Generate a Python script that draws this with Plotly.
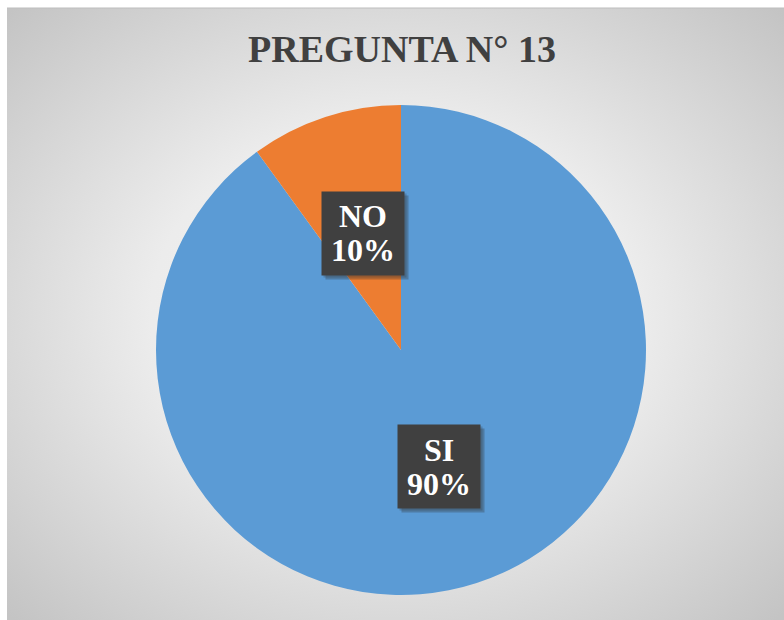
import math
import base64
import plotly.graph_objects as go

# ---- data ----
labels = ["SI", "NO"]
values = [90, 10]
colors = ["#5B9BD5", "#ED7D31"]
title_text = "PREGUNTA N° 13"

# ---- geometry / style ----
W, H = 784, 620
CX, CY, R = 401, 350, 245          # pie centre and radius in pixels
LABEL_R = 0.5                       # label distance as fraction of radius
SERIF = "Liberation Serif, Times New Roman, serif"
BOX_W, BOX_H = 82, 83
LBL_SIZE = 32

# radial gradient background as an SVG image
bx0, by0, bx1, by1 = 7, 8, 784, 620
svg = f"""<svg xmlns='http://www.w3.org/2000/svg' width='{bx1-bx0}' height='{by1-by0}'>
<defs><radialGradient id='g' cx='50%' cy='50%' r='70%'>
<stop offset='0%' stop-color='#f4f4f4'/>
<stop offset='45%' stop-color='#ececec'/>
<stop offset='100%' stop-color='#c4c4c4'/>
</radialGradient></defs>
<rect width='100%' height='100%' fill='url(#g)'/></svg>"""
svg_uri = "data:image/svg+xml;base64," + base64.b64encode(svg.encode()).decode()

fig = go.Figure()
fig.add_trace(go.Pie(
    labels=labels,
    values=values,
    marker=dict(colors=colors, line=dict(width=0)),
    sort=False,
    direction="clockwise",
    rotation=0,
    textinfo="none",
    hoverinfo="label+percent",
    showlegend=False,
    domain=dict(x=[(CX - R) / W, (CX + R) / W],
                y=[1 - (CY + R) / H, 1 - (CY - R) / H]),
))

# labels in dark boxes placed at each slice's mid-angle
total = sum(values)
cum = 0
annotations = []
for lab, v in zip(labels, values):
    mid = (cum + v / 2) / total * 2 * math.pi
    cum += v
    px = CX + LABEL_R * R * math.sin(mid)
    py = CY - LABEL_R * R * math.cos(mid)
    pct = round(v / total * 100)
    base = dict(x=px / W, y=1 - py / H, xref="paper", yref="paper",
                showarrow=False, xanchor="center", yanchor="middle")
    box = dict(base, width=BOX_W, height=BOX_H, borderpad=0, text=" ")
    # shadow
    annotations.append(dict(box, xshift=4, yshift=-4, bgcolor="rgba(50,50,50,0.30)"))
    annotations.append(dict(box, xshift=2, yshift=-2, bgcolor="rgba(50,50,50,0.25)"))
    annotations.append(dict(box, bgcolor="#404040"))
    # two text lines
    annotations.append(dict(base, text=f"<b>{lab}</b>", yshift=17,
                            font=dict(family=SERIF, size=LBL_SIZE, color="white")))
    annotations.append(dict(base, text=f"<b>{pct}%</b>", yshift=-17,
                            font=dict(family=SERIF, size=LBL_SIZE, color="white")))

fig.update_layout(
    width=W, height=H,
    margin=dict(l=0, r=0, t=0, b=0),
    paper_bgcolor="white",
    plot_bgcolor="white",
    title=dict(text=f"<b>{title_text}</b>", x=402 / W, xanchor="center",
               y=1 - 49 / H, yanchor="middle",
               font=dict(family=SERIF, size=38, color="#404040")),
    annotations=annotations,
    images=[dict(source=svg_uri, xref="paper", yref="paper",
                 x=bx0 / W, y=1 - by0 / H, sizex=(bx1 - bx0) / W,
                 sizey=(by1 - by0) / H, xanchor="left", yanchor="top",
                 sizing="stretch", layer="below")],
    shapes=[dict(type="line", xref="paper", yref="paper",
                 x0=bx0 / W, x1=1, y0=1 - by0 / H, y1=1 - by0 / H,
                 line=dict(color="#bdbdbd", width=1))],
)

fig.write_html("out.html",
               config={"displayModeBar": False},
               post_script="document.body.style.margin='0';document.body.style.overflow='hidden';")
